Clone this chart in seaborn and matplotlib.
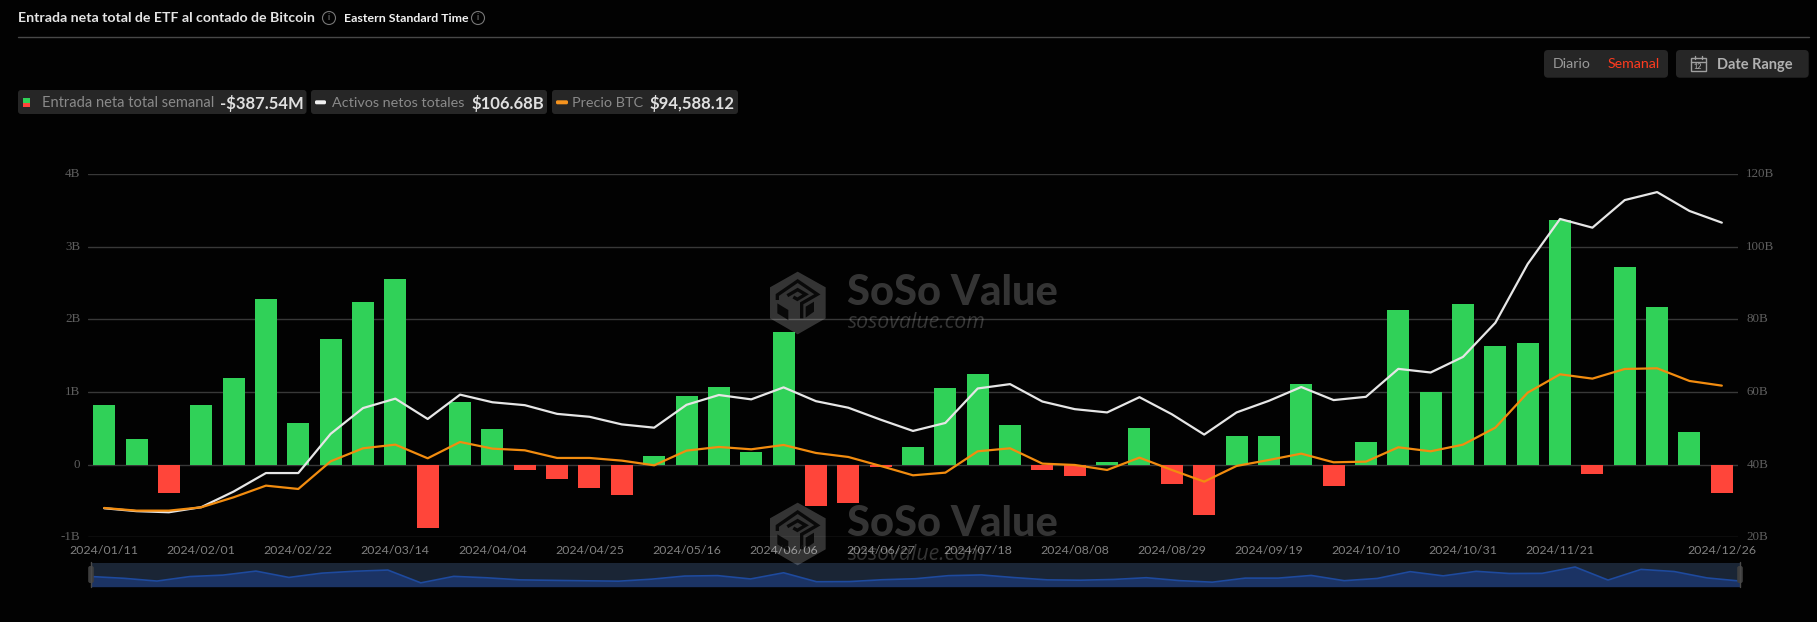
import numpy as np
import pandas as pd
import matplotlib
matplotlib.use("Agg")
import matplotlib.pyplot as plt
from matplotlib.patches import FancyBboxPatch, Circle, Polygon, Rectangle
import seaborn as sns

# ---------- data ----------
weeks = ["2024/01/11","2024/01/18","2024/01/25","2024/02/01","2024/02/08","2024/02/15","2024/02/22",
         "2024/02/29","2024/03/07","2024/03/14","2024/03/21","2024/03/28","2024/04/04","2024/04/11",
         "2024/04/18","2024/04/25","2024/05/02","2024/05/09","2024/05/16","2024/05/23","2024/05/30",
         "2024/06/06","2024/06/13","2024/06/20","2024/06/27","2024/07/04","2024/07/11","2024/07/18",
         "2024/07/25","2024/08/01","2024/08/08","2024/08/15","2024/08/22","2024/08/29","2024/09/05",
         "2024/09/12","2024/09/19","2024/09/26","2024/10/03","2024/10/10","2024/10/17","2024/10/24",
         "2024/10/31","2024/11/07","2024/11/14","2024/11/21","2024/11/28","2024/12/05","2024/12/12",
         "2024/12/19","2024/12/26"]
inflow_b = [0.82,0.35,-0.39,0.82,1.20,2.28,0.58,1.73,2.24,2.56,-0.87,0.87,0.49,-0.07,-0.195,-0.32,-0.42,
            0.12,0.95,1.07,0.175,1.83,-0.57,-0.53,-0.03,0.24,1.06,1.25,0.54,-0.07,-0.16,0.04,0.51,-0.27,-0.69,
            0.40,0.40,1.115,-0.29,0.31,2.13,1.00,2.22,1.635,1.675,3.375,-0.125,2.73,2.17,0.45,-0.387]
assets_b = [28.0,27.2,26.9,28.3,32.6,37.7,37.7,48.5,55.6,58.2,52.6,59.3,57.2,56.4,54.0,53.2,51.1,
            50.2,56.5,59.2,58.0,61.3,57.5,55.7,52.4,49.3,51.5,61.0,62.2,57.4,55.3,54.4,58.6,53.9,48.3,
            54.4,57.6,61.4,57.8,58.7,66.4,65.4,69.7,79.1,95.3,107.7,105.3,112.9,115.1,109.9,106.68]
btc_usd = [46584,45538,45538,46846,50770,55348,54040,64896,69997,71436,66074,72483,69867,69213,66204,66204,65158,
           63327,69082,70521,69605,71306,68166,66597,63065,59403,60449,68821,69997,63981,63458,61496,66335,61496,56918,
           63065,65420,67903,64504,64766,70390,68821,71436,78107,91841,99035,97335,101128,101390,96419,94588]
tick_labels = ["2024/01/11","2024/02/01","2024/02/22","2024/03/14","2024/04/04","2024/04/25","2024/05/16",
               "2024/06/06","2024/06/27","2024/07/18","2024/08/08","2024/08/29","2024/09/19","2024/10/10",
               "2024/10/31","2024/11/21","2024/12/26"]
left_ticks = [-1,0,1,2,3,4]
left_labels = ["-1B","0","1B","2B","3B","4B"]
right_ticks = [20,40,60,80,100,120]
right_labels = ["20B","40B","60B","80B","100B","120B"]

df = pd.DataFrame({"week":weeks,"inflow":inflow_b,"assets":assets_b,"btc":btc_usd})
df["pos"] = np.arange(len(df))
df["sign"] = np.where(df.inflow>=0,"up","down")

W,H = 1817,622
sns.set_theme(style="dark")
plt.rcParams['font.family'] = ['Lato','DejaVu Sans']
BG="#020202"; GREEN="#30d158"; RED="#ff453a"; WHITE="#e6e6e6"; ORANGE="#f28c0f"
fig = plt.figure(figsize=(W/100,H/100),dpi=100,facecolor=BG)
def px_axes(x0,y0,x1,y1,**k):
    return fig.add_axes([x0/W,1-y1/H,(x1-x0)/W,(y1-y0)/H],**k)

# ---------- main chart ----------
ax = px_axes(88,174.3,1738,537.3)
ax.set_facecolor(BG)
sns.barplot(data=df,x="week",y="inflow",hue="sign",palette={"up":GREEN,"down":RED},
            dodge=False,width=0.68,legend=False,ax=ax,saturation=1,zorder=3,linewidth=0,edgecolor="none")
ax.set_xlim(-0.5,len(df)-0.5); ax.set_ylim(-1,4)
ax.set_yticks(left_ticks); ax.set_yticklabels(left_labels,family=['Liberation Serif'],fontsize=9.4,color="#5e5e5e",va="center")
idx=[weeks.index(t) for t in tick_labels]
ax.set_xticks(idx); ax.set_xticklabels(tick_labels,fontsize=8.9,color="#808080")
ax.tick_params(axis="x",length=0,pad=5.5); ax.tick_params(axis="y",length=0,pad=5.5)
ax.set_xlabel(""); ax.set_ylabel("")
ax.grid(axis="y",color="#383838",lw=1); ax.grid(axis="x",visible=False); ax.set_axisbelow(True)
for s in ax.spines.values(): s.set_visible(False)

ax2 = ax.twinx(); ax2.patch.set_visible(False)
sns.lineplot(data=df,x="pos",y="assets",color=WHITE,lw=1.6,errorbar=None,ax=ax2,zorder=4)
ax2.set_ylim(20,120); ax2.set_yticks(right_ticks); ax2.set_yticklabels(right_labels,family=['Liberation Serif'],fontsize=9.4,color="#5e5e5e",va="center")
ax2.tick_params(axis="y",length=0,pad=6); ax2.set_ylabel(""); ax2.grid(False)
for s in ax2.spines.values(): s.set_visible(False)

ax3 = ax.twinx(); ax3.patch.set_visible(False)
sns.lineplot(data=df,x="pos",y="btc",color=ORANGE,lw=1.6,errorbar=None,ax=ax3,zorder=5)
ax3.set_ylim(35074,177515); ax3.axis("off")
ax.set_xlim(-0.5,len(df)-0.5)

# ---------- minimap ----------
mm = px_axes(91,563,1740,586.7)
mm.set_facecolor("#1a2535")
sns.lineplot(data=df,x="pos",y="inflow",color="#1e4a9e",lw=1.2,errorbar=None,ax=mm)
mm.fill_between(df.pos,df.inflow,-1.9,color="#1b3364",lw=0)
mm.set_xlim(0,len(df)-1); mm.set_ylim(-1.9,4.45); mm.set_xticks([]); mm.set_yticks([])
mm.set_xlabel(""); mm.set_ylabel(""); mm.grid(False)
for s in mm.spines.values(): s.set_visible(False)

# ---------- page furniture in pixel coordinates ----------
ov = fig.add_axes([0,0,1,1],zorder=10); ov.set_xlim(0,W); ov.set_ylim(H,0); ov.axis("off"); ov.patch.set_visible(False)
def chip(x0,y0,x1,y1,c="#262626",r=3):
    ov.add_patch(FancyBboxPatch((x0+r,y0+r),x1-x0-2*r,y1-y0-2*r,boxstyle=f"round,pad={r},rounding_size={r}",fc=c,ec="none"))
def txt(x,y,s,size,color,weight="normal",ha="left",**k):
    return ov.text(x,y,s,fontsize=size,color=color,fontweight=weight,ha=ha,va="center",**k)
def info(x,y):
    ov.add_patch(Circle((x,y),6.5,fc="none",ec="#777777",lw=0.8))
    txt(x,y,"i",6.5,"#888888",ha="center")

txt(18,18.5,"Entrada neta total de ETF al contado de Bitcoin",10.2,"#e4e4e4","bold")
info(329,18)
txt(344,18.5,"Eastern Standard Time",8.9,"#f2f2f2","bold")
info(478,18)
ov.plot([18,1809],[37.3,37.3],color="#484848",lw=1)

chip(18,90,306.5,114); chip(311,90,547,114); chip(552,90,738,114)
ov.add_patch(Rectangle((23,98),7,4.5,fc=GREEN,ec="none")); ov.add_patch(Rectangle((23,102.5),7,4.5,fc=RED,ec="none"))
txt(42,103,"Entrada neta total semanal",10.5,"#8a8a8a")
txt(220,103,"-$387.54M",12.0,"#e0e0e0","bold")
chip(315,100.3,326,104.3,"#f0f0f0",1.5)
txt(332,103,"Activos netos totales",10.4,"#8a8a8a")
txt(472,103,"$106.68B",12.0,"#e0e0e0","bold")
chip(556,100.3,568,104.3,"#f5931e",1.5)
txt(572,103,"Precio BTC",10.4,"#8a8a8a")
txt(649,103,"$94,588.12",12.0,"#e0e0e0","bold")

chip(1544,50,1668,77.7,r=4); chip(1676,50,1808.7,77.7,r=4)
txt(1552.7,64.5,"Diario",10.2,"#9a9a9a")
txt(1607.7,64.5,"Semanal",10.2,"#ff3b1f")
txt(1716.7,64.5,"Date Range",10.5,"#b0b0b0","bold")
ov.add_patch(Rectangle((1691,57.5),14.5,13.5,fc="none",ec="#a0a0a0",lw=1))
ov.plot([1691,1705.5],[61.5,61.5],color="#a0a0a0",lw=1)
ov.plot([1694.5,1694.5],[55.5,59],color="#a0a0a0",lw=1); ov.plot([1702,1702],[55.5,59],color="#a0a0a0",lw=1)
txt(1698.2,66.3,"12",5.2,"#a0a0a0","bold",ha="center")

for x in (91,1740):
    ov.plot([x,x],[562,587],color="#4a4a4a",lw=1)
    chip(x-2.8,566,x+2.8,583,"#3e3e3e",2)

# watermarks (logo shapes given in the pixels of a 270-wide logo box)
WM="#ffffff"; A=0.2
def watermark(dy):
    P=lambda pts:[(760+u/3,265+dy+v/3) for u,v in pts]
    ov.add_patch(Polygon(P([(113,20),(197,67),(197,160),(113,208),(30,160),(30,67)]),closed=True,fc=WM,ec="none",alpha=A))
    for pts in ([(52,105),(52,90),(113,48),(172,88),(125,115),(125,160)],
                [(82,92),(113,74),(137,88),(112,103),(100,96)]):
        xs,ys=zip(*P(pts)); ov.plot(xs,ys,color=BG,lw=2.4,alpha=0.85,solid_capstyle="butt",solid_joinstyle="miter")
    for pts in ([(52,115),(85,135),(85,165),(52,145)],[(137,125),(162,110),(162,140),(137,158)]):
        ov.add_patch(Polygon(P(pts),closed=True,fc=BG,ec="none",alpha=0.85))
    ov.text(847,293+dy,"SoSo Value",fontsize=30,fontweight="black",family=["Lato"],color=WM,alpha=A,va="center",ha="left")
    ov.text(848,323+dy,"sosovalue.com",fontsize=15.3,style="italic",family=["Open Sans"],color=WM,alpha=A,va="center",ha="left")
watermark(0); watermark(231)

fig.savefig("out.png",dpi=100,facecolor=BG)
